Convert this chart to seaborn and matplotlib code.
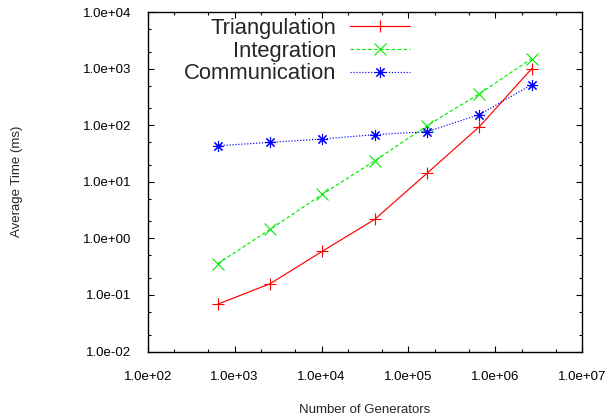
import matplotlib
matplotlib.use("Agg")
import matplotlib.pyplot as plt
from matplotlib.ticker import LogLocator, FuncFormatter, NullFormatter
import seaborn as sns
import pandas as pd

generators = [640, 2560, 10240, 40960, 163840, 655360, 2621440]
triangulation = [0.0687, 0.158, 0.593, 2.17, 14.2, 94.4, 1000]
integration = [0.358, 1.44, 6.03, 23.5, 98.4, 360, 1506]
communication = [43.4, 49.7, 57.1, 68.1, 76.9, 154, 520]
series = ["Triangulation", "Integration", "Communication"]

df = pd.concat([
    pd.DataFrame({"x": generators, "y": vals, "series": name})
    for name, vals in zip(series, [triangulation, integration, communication])
])

sns.set_style("ticks")
plt.rcParams["font.family"] = ["Liberation Sans", "DejaVu Sans"]

fig = plt.figure(figsize=(6.06, 4.18), dpi=100)
ax = fig.add_axes([0.2437, 0.159, 0.7172, 0.8122])

palette = {"Triangulation": "#ff0000", "Integration": "#00ee00", "Communication": "#0000ff"}
markers = {"Triangulation": "+", "Integration": "x", "Communication": (8, 2, 0)}
dashes = {"Triangulation": "", "Integration": (3, 2), "Communication": (1, 1.5)}

sns.lineplot(data=df, x="x", y="y", hue="series", style="series", hue_order=series,
             style_order=series, palette=palette, markers=markers, dashes=dashes,
             linewidth=0.85, markersize=8, markeredgewidth=0.8, markeredgecolor=None,
             legend=False, ax=ax)
for line in ax.get_lines():
    line.set_markeredgecolor(line.get_color())

ax.set_xscale("log")
ax.set_yscale("log")
ax.set_xlim(1e2, 1e7)
ax.set_ylim(1e-2, 1e4)

fmt = FuncFormatter(lambda v, p: f"{v:.1e}")
for axis in (ax.xaxis, ax.yaxis):
    axis.set_major_locator(LogLocator(base=10, numticks=20))
    axis.set_minor_locator(LogLocator(base=10, subs=(2.0, 5.0), numticks=20))
    axis.set_major_formatter(fmt)
    axis.set_minor_formatter(NullFormatter())

ax.tick_params(which="both", direction="in", top=True, right=True, labelsize=9.5,
               colors="black", width=0.8)
ax.tick_params(which="major", length=4.5, pad=12)
ax.tick_params(which="minor", length=2.3)
ax.tick_params(axis="x", which="major", pad=14)
for s in ax.spines.values():
    s.set_visible(True)
    s.set_linewidth(1.0)
    s.set_color("black")

ax.set_xlabel("Number of Generators", fontsize=9.5, labelpad=15)
ax.set_ylabel("Average Time (ms)", fontsize=9.5, labelpad=43)

handles = ax.get_lines()[:3]
leg = ax.legend(handles, series, loc="upper right", bbox_to_anchor=(0.613, 0.995),
                frameon=False, fontsize=15.8, markerfirst=False, handlelength=2.7,
                handletextpad=0.63, labelspacing=0.07, borderpad=0.2,
                borderaxespad=0.0)

fig.savefig("out.png", dpi=100)
